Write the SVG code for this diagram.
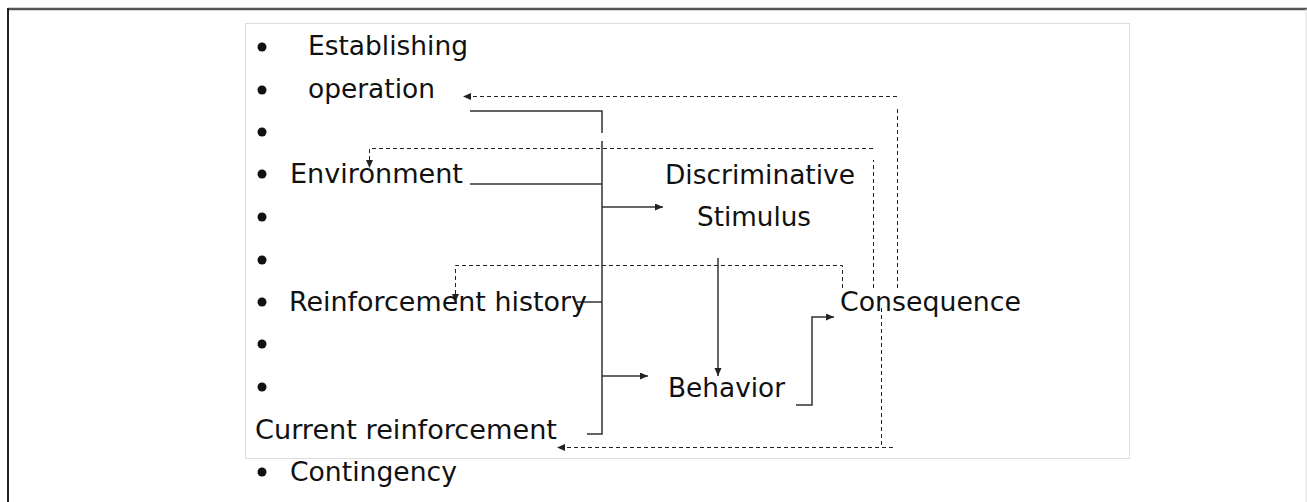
<svg xmlns="http://www.w3.org/2000/svg" width="1307" height="502" viewBox="0 0 1307 502">
<style>
  text { font-family: "DejaVu Sans", "Liberation Sans", sans-serif; font-size: 26px; fill: #111; }
  .solid { fill: none; stroke: #333; stroke-width: 1.5; }
  .dash { fill: none; stroke: #222; stroke-width: 1; stroke-dasharray: 4 3; }
  .bullet { fill: #111; }
</style>
<defs>
  <marker id="arr" markerUnits="userSpaceOnUse" markerWidth="9" markerHeight="8" refX="8" refY="3.5" orient="auto">
    <path d="M0,0 L8,3.5 L0,7 z" fill="#222"/>
  </marker>
</defs>
<rect width="1307" height="502" fill="#fff"/>
<g id="frame">
  <line x1="8" y1="9" x2="1307" y2="9" stroke="#555" stroke-width="2.5"/>
  <line x1="8" y1="8" x2="8" y2="502" stroke="#222" stroke-width="2"/>
  <line x1="1306" y1="9" x2="1306" y2="502" stroke="#ddd" stroke-width="1"/>
  <rect x="245.5" y="23.5" width="884" height="435" fill="none" stroke="#bbb" stroke-width="1" stroke-dasharray="1 1"/>
</g>
<g id="bullets">
  <circle class="bullet" cx="262" cy="47" r="4.5"/>
  <circle class="bullet" cx="262" cy="90" r="4.5"/>
  <circle class="bullet" cx="262" cy="132" r="4.5"/>
  <circle class="bullet" cx="262" cy="174" r="4.5"/>
  <circle class="bullet" cx="262" cy="217" r="4.5"/>
  <circle class="bullet" cx="262" cy="260" r="4.5"/>
  <circle class="bullet" cx="262" cy="302" r="4.5"/>
  <circle class="bullet" cx="262" cy="344" r="4.5"/>
  <circle class="bullet" cx="262" cy="387" r="4.5"/>
  <circle class="bullet" cx="262" cy="472" r="4.5"/>
</g>
<g id="connectors">
  <path class="solid" d="M470,111 H602 V133"/>
  <path class="solid" d="M602,141 V434 H587"/>
  <path class="solid" d="M470,184 H602"/>
  <path class="solid" d="M602,207 H663" marker-end="url(#arr)"/>
  <path class="solid" d="M577,302 H602"/>
  <path class="solid" d="M602,376 H648" marker-end="url(#arr)"/>
  <path class="solid" d="M718,258 V376" marker-end="url(#arr)"/>
  <path class="solid" d="M796,405 H812 V317 H834" marker-end="url(#arr)"/>
  <path class="dash" d="M897.5,288 V106"/>
  <path class="dash" d="M897,96.5 H463" marker-end="url(#arr)"/>
  <path class="dash" d="M873.5,288 V160"/>
  <path class="dash" d="M873,148.5 H369.5 V168" marker-end="url(#arr)"/>
  <path class="dash" d="M842.5,288 V265.5 H455.5 V302" marker-end="url(#arr)"/>
  <path class="dash" d="M881.5,308 V447"/>
  <path class="dash" d="M893,447.5 H557" marker-end="url(#arr)"/>
</g>
<g id="establishing-operation">
  <text x="308" y="55" textLength="160" lengthAdjust="spacingAndGlyphs">Establishing</text>
  <text x="308" y="98" textLength="127" lengthAdjust="spacingAndGlyphs">operation</text>
</g>
<g id="environment">
  <text x="290" y="183" textLength="173" lengthAdjust="spacingAndGlyphs">Environment</text>
</g>
<g id="reinforcement-history">
  <text x="289" y="311" textLength="298" lengthAdjust="spacingAndGlyphs">Reinforcement history</text>
</g>
<g id="current-reinforcement">
  <text x="255" y="439" textLength="302" lengthAdjust="spacingAndGlyphs">Current reinforcement</text>
  <text x="290" y="481" textLength="167" lengthAdjust="spacingAndGlyphs">Contingency</text>
</g>
<g id="discriminative-stimulus">
  <text x="665" y="184" textLength="190" lengthAdjust="spacingAndGlyphs">Discriminative</text>
  <text x="697" y="226" textLength="114" lengthAdjust="spacingAndGlyphs">Stimulus</text>
</g>
<g id="behavior">
  <text x="668" y="397" textLength="117" lengthAdjust="spacingAndGlyphs">Behavior</text>
</g>
<g id="consequence">
  <text x="840" y="311" textLength="181" lengthAdjust="spacingAndGlyphs">Consequence</text>
</g>
</svg>
